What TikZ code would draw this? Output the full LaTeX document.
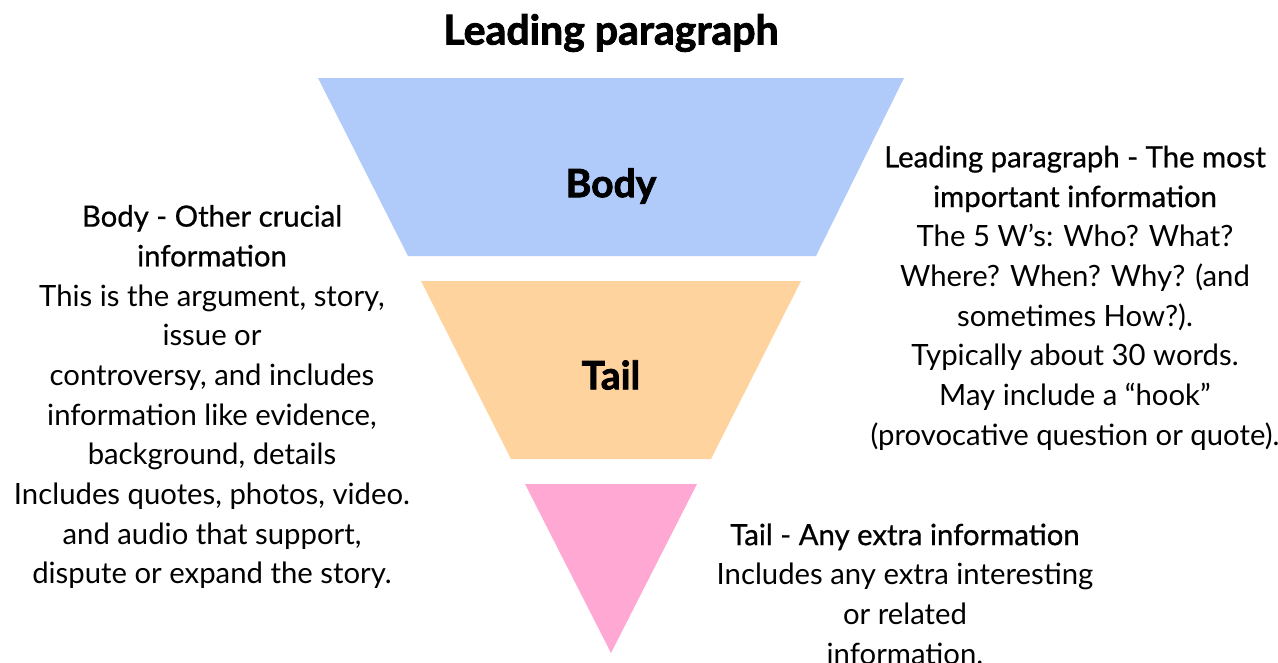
\documentclass[tikz,border=0pt]{standalone}
\usepackage{fontspec}
\setmainfont{Lato}
\newfontfamily\heavyfont[FakeBold=2]{Lato Bold}
\newfontfamily\medfont[FakeBold=0.7]{Lato}
\definecolor{bodyblue}{RGB}{176,202,250}
\definecolor{tailorange}{RGB}{254,211,158}
\definecolor{tippink}{RGB}{254,168,211}
\begin{document}
\begin{tikzpicture}[x=1pt,y=-1pt,
  txt/.style={align=center,inner sep=0pt,font=\fontsize{29.3}{39.7}\selectfont},
  big/.style={inner sep=0pt,font=\fontsize{39}{42}\selectfont\heavyfont}]
\useasboundingbox (0,0) rectangle (1278,662);
\fill[bodyblue] (318,78) -- (904,78) -- (816,256) -- (408,256) -- cycle;
\fill[tailorange] (421,281) -- (801,281) -- (711,459) -- (511,459) -- cycle;
\fill[tippink] (525,484) -- (697,484) -- (611,653) -- cycle;
\node[big,font=\fontsize{41}{44}\selectfont\heavyfont] (title) at (611,33) {Leading paragraph};
\node[big] (body) at (611,186) {Body};
\node[big] (tail) at (611,375) {Tail};
\node[txt] (left) at (212,397) {{\medfont Body - Other crucial}\\{\medfont information}\\This is the argument, story,\\issue or\\controversy, and includes\\information like evidence,\\background, details\\Includes quotes, photos, video.\\and audio that support,\\dispute or expand the story.};
\node[txt] (right) at (1075,298) {{\medfont Leading paragraph - The most}\\{\medfont important information}\\The 5 W’s: Who? What?\\Where? When? Why? (and\\sometimes How?).\\Typically about 30 words.\\May include a “hook”\\(provocative question or quote).};
\node[txt] (bottom) at (905,594) {{\medfont Tail - Any extra information}\\Includes any extra interesting\\or related\\information.};
\end{tikzpicture}
\end{document}
